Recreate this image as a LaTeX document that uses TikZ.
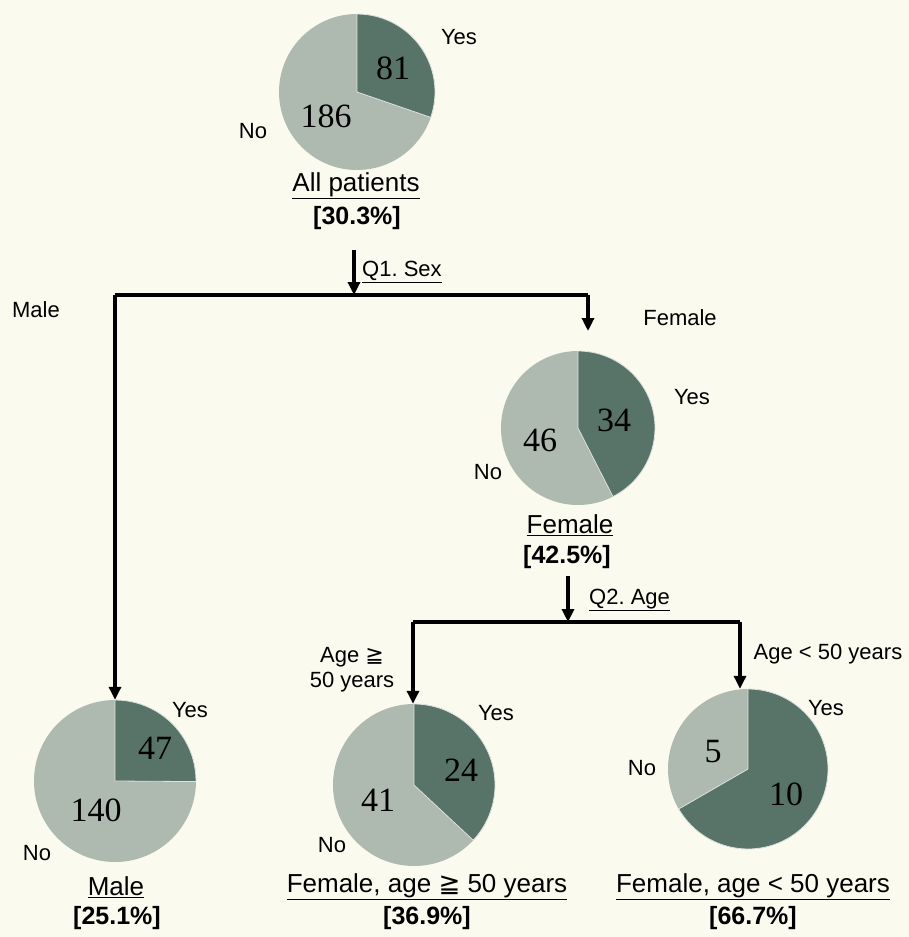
\documentclass[tikz,border=0pt]{standalone}
\usepackage{fontspec}
\setmainfont{Liberation Sans}
\newfontfamily\piefont{Liberation Serif}
\newfontfamily\relfont{DejaVu Sans}
\usetikzlibrary{arrows.meta}
\frenchspacing

\definecolor{bgcol}{RGB}{250,250,239}
\definecolor{yescol}{RGB}{88,116,104}
\definecolor{nocol}{RGB}{174,185,176}

\tikzset{
  pie/.style={circle, inner sep=0pt},
  lbl/.style={font=\fontsize{22}{25}\selectfont, inner sep=1pt},
  num/.style={font=\piefont\fontsize{34}{36}\selectfont, inner sep=0pt},
  grp/.style={font=\fontsize{26}{28}\selectfont, inner sep=1pt},
  pct/.style={font=\bfseries\fontsize{25}{27}\selectfont, inner sep=1pt},
  branch/.style={line width=3.2pt},
  arr/.style={branch, -{Triangle[width=12pt,length=13pt]}},
  cut/.style={draw=white!60!nocol, line width=0.8pt}
}

\begin{document}
\begin{tikzpicture}[x=1pt, y=-1pt]
        \fill[bgcol] (0,0) rectangle (909,937);
        \useasboundingbox (0,0) rectangle (909,937);

        % Pie: all patients
        \node[pie, minimum size=156pt] (pAll) at (357,92) {};
        \fill[nocol] (pAll.center) circle[radius=78pt];
        \filldraw[yescol, cut] (pAll.center) -- ++(90:78pt) arc[start angle=90, end angle=-19, radius=78pt] -- cycle;
        \node[num] (nYesAll) at (393,68) {81};
        \node[num] (nNoAll) at (326,116) {186};
        \node[lbl] (yesAll) at (459,37) {Yes};
        \node[lbl] (noAll) at (253,131) {No};
        \node[grp] (lAll) at (356,186) {\underline{All patients}};
        \node[pct] (pctAll) at (357,218) {[30.3\%]};

        % Pie: female
        \node[pie, minimum size=154pt] (pFem) at (578,428) {};
        \fill[nocol] (pFem.center) circle[radius=77pt];
        \filldraw[yescol, cut] (pFem.center) -- ++(90:77pt) arc[start angle=90, end angle=-63, radius=77pt] -- cycle;
        \node[num] (nYesFem) at (614,420) {34};
        \node[num] (nNoFem) at (540,440) {46};
        \node[lbl] (yesFem) at (692,397) {Yes};
        \node[lbl] (noFem) at (488,472) {No};
        \node[grp] (lFem) at (570,525) {\underline{Female}};
        \node[pct] (pctFem) at (567,557) {[42.5\%]};

        % Pie: male
        \node[pie, minimum size=162pt] (pMale) at (115,781) {};
        \fill[nocol] (pMale.center) circle[radius=81pt];
        \filldraw[yescol, cut] (pMale.center) -- ++(90:81pt) arc[start angle=90, end angle=-0.4, radius=81pt] -- cycle;
        \node[num] (nYesMale) at (155,748) {47};
        \node[num] (nNoMale) at (96,810) {140};
        \node[lbl] (yesMale) at (190,710) {Yes};
        \node[lbl] (noMale) at (37,853) {No};
        \node[grp] (lMale) at (116,887) {\underline{Male}};
        \node[pct] (pctMale) at (117,918) {[25.1\%]};

        % Pie: female, age >= 50
        \node[pie, minimum size=162pt] (pOld) at (414,785) {};
        \fill[nocol] (pOld.center) circle[radius=81pt];
        \filldraw[yescol, cut] (pOld.center) -- ++(90:81pt) arc[start angle=90, end angle=-43, radius=81pt] -- cycle;
        \node[num] (nYesOld) at (461,770) {24};
        \node[num] (nNoOld) at (378,800) {41};
        \node[lbl] (yesOld) at (496,713) {Yes};
        \node[lbl] (noOld) at (332,845) {No};
        \node[grp] (lOld) at (427,887) {\underline{Female, age {\relfont ≧} 50 years}};
        \node[pct] (pctOld) at (427,918) {[36.9\%]};

        % Pie: female, age < 50
        \node[pie, minimum size=160pt] (pYoung) at (748,769) {};
        \fill[nocol] (pYoung.center) circle[radius=80pt];
        \filldraw[yescol, cut] (pYoung.center) -- ++(90:80pt) arc[start angle=90, end angle=-150, radius=80pt] -- cycle;
        \node[num] (nYesYoung) at (786,794) {10};
        \node[num] (nNoYoung) at (713,752) {5};
        \node[lbl] (yesYoung) at (826,708) {Yes};
        \node[lbl] (noYoung) at (642,768) {No};
        \node[grp] (lYoung) at (753,887) {\underline{Female, age < 50 years}};
        \node[pct] (pctYoung) at (753,918) {[66.7\%]};

        % Q1 split
        \coordinate (q1) at (354,250);
        \coordinate (j1) at (354,295);
        \coordinate (jMale) at (115,295);
        \coordinate (jFem) at (588,295);
        \coordinate (tFem) at (588,331);
        \draw[arr] (q1) -- (j1);
        \draw[branch] (jMale) -- (jFem);
        \draw[arr] (jMale) -- (pMale.north);
        \draw[arr] (jFem) -- (tFem);
        \node[lbl, anchor=west] (q1txt) at (361,272) {\underline{Q1. Sex}};
        \node[lbl] (male) at (36,310) {Male};
        \node[lbl] (female) at (680,318) {Female};

        % Q2 split
        \coordinate (q2) at (568,576);
        \coordinate (j2) at (568,622);
        \coordinate (jOld) at (413,622);
        \coordinate (jYoung) at (740,622);
        \draw[arr] (q2) -- (j2);
        \draw[branch] (jOld) -- (jYoung);
        \draw[arr] (jOld) -- (jOld |- pOld.north);
        \draw[arr] (jYoung) -- (jYoung |- pYoung.north);
        \node[lbl, anchor=west] (q2txt) at (588,600) {\underline{Q2. Age}};
        \node[lbl, align=center] (old) at (352,670) {Age {\relfont ≧}\\50 years};
        \node[lbl] (young) at (828,654) {Age < 50 years};
\end{tikzpicture}
\end{document}
